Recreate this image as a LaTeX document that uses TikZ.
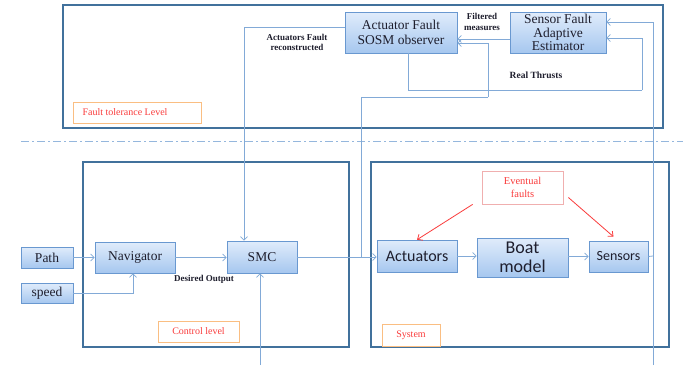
\documentclass[tikz,border=0pt]{standalone}
\usepackage{fontspec}
\setmainfont{Liberation Serif}
\newfontfamily\calfont{Carlito}
\usetikzlibrary{arrows.meta,shadows}
\definecolor{framecol}{RGB}{65,113,156}
\definecolor{boxline}{RGB}{105,152,208}
\definecolor{boxtop}{RGB}{224,236,251}
\definecolor{boxbot}{RGB}{166,199,239}
\definecolor{conncol}{RGB}{130,170,215}
\definecolor{redtxt}{RGB}{250,60,60}
\definecolor{orangeline}{RGB}{250,190,130}
\definecolor{pinkline}{RGB}{240,175,175}
\definecolor{boxtext}{RGB}{30,30,45}
\begin{document}
\begin{tikzpicture}[x=1pt,y=-1pt,
  box/.style={draw=boxline, line width=0.6pt, top color=boxtop, bottom color=boxbot,
    drop shadow={shadow xshift=1pt,shadow yshift=-1pt,opacity=0.25,fill=black},
    inner sep=0pt, align=center, text=boxtext},
  frm/.style={draw=framecol, line width=1.4pt},
  lbl/.style={draw=orangeline, line width=0.8pt, fill=white, text=redtxt, inner sep=0pt, font=\fontsize{10}{11}\selectfont},
  conn/.style={draw=conncol, line width=0.8pt},
  arr/.style={conn, -{Straight Barb[length=3.5pt,width=7pt]}},
  redarr/.style={draw=redtxt, line width=0.8pt, -{Straight Barb[length=4pt,width=7pt]}},
  small/.style={font=\fontsize{9}{10}\selectfont, text=boxtext, align=center, inner sep=0pt}
]
\useasboundingbox (0,0) rectangle (683,365);
\fill[white] (0,0) rectangle (683,365);

% frames
\draw[frm] (63,5) rectangle (663,128);
\draw[frm] (83,162) rectangle (349,347);
\draw[frm] (371,162) rectangle (669,347);

% separator
\draw[draw=conncol!85, line width=1pt, dash pattern=on 8pt off 3pt on 2pt off 3pt] (21,141) -- (683,141);

% boxes
\node[box, minimum width=52pt, minimum height=21pt, font=\fontsize{13.5}{15}\selectfont] (path) at (47,257.5) {Path};
\node[box, minimum width=52pt, minimum height=20pt, font=\fontsize{13.5}{15}\selectfont] (speed) at (47,293) {speed};
\node[box, minimum width=80pt, minimum height=31pt, font=\fontsize{13.5}{15}\selectfont] (nav) at (135,257.5) {Navigator};
\node[box, minimum width=70pt, minimum height=32pt, font=\fontsize{13.5}{15}\selectfont] (smc) at (262,257) {SMC};
\node[box, minimum width=80pt, minimum height=32pt, font=\calfont\fontsize{16}{18}\selectfont] (act) at (417,256) {Actuators};
\node[box, minimum width=91pt, minimum height=39pt, font=\calfont\fontsize{18}{18.5}\selectfont] (boat) at (522.5,257.5) {Boat\\model};
\node[box, minimum width=59pt, minimum height=31pt, font=\calfont\fontsize{14}{15}\selectfont] (sens) at (618.5,256.5) {Sensors};
\node[box, minimum width=112pt, minimum height=41pt, font=\fontsize{13.5}{14.5}\selectfont] (af) at (401,32.5) {Actuator Fault\\SOSM observer};
\node[box, minimum width=96pt, minimum height=41pt, font=\fontsize{13.5}{13.5}\selectfont] (sf) at (558,32.5) {Sensor Fault\\Adaptive\\Estimator};

% labels
\node[draw=pinkline, line width=0.8pt, fill=white, text=redtxt, align=center, inner sep=0pt,
  minimum width=81pt, minimum height=33pt, font=\fontsize{10.5}{12.5}\selectfont] (ef) at (522.5,187.5) {Eventual\\faults};
\node[lbl, minimum width=128pt, minimum height=21pt] (ftl) at (137,112.5) {\hspace*{-24pt}Fault tolerance Level};
\node[lbl, minimum width=81pt, minimum height=21pt] (cl) at (198.5,331.5) {Control level};
\node[lbl, minimum width=58pt, minimum height=22pt] (sys) at (411,335) {System};

\node[small, font=\bfseries\fontsize{9}{10.5}\selectfont] (desired) at (204,279) {Desired Output};
\node[small, font=\bfseries\fontsize{9}{10.5}\selectfont] (afr) at (297,42.5) {Actuators Fault\\reconstructed};
\node[small, font=\bfseries\fontsize{9}{10.5}\selectfont] (fm) at (482,22) {Filtered\\measures};
\node[small, font=\bfseries\fontsize{9.5}{10.5}\selectfont] (rt) at (536,75) {Real Thrusts};

% coordinates
\coordinate (bot1) at (260,365);
\coordinate (bot2) at (653,365);
\coordinate (j1) at (361,257);
\coordinate (r1) at (361,97);
\coordinate (r2) at (488,97);
\coordinate (t1) at (408,90);
\coordinate (t2) at (642,90);
\coordinate (s1) at (653,256);

% connectors
\draw[arr] (path.east) -- (path.east -| nav.west);
\draw[arr] (speed.east) -| ([xshift=-2pt]nav.south);
\draw[arr] (nav.east) -- (nav.east -| smc.west);
\draw[arr] ([yshift=5.5pt]af.west) -| ([xshift=-18pt]smc.north);
\draw[arr] (bot1) -- (bot1 |- smc.south);
\draw[arr] (smc.east) -- (smc.east -| act.west);
\draw[conn] (j1) -- (r1) -- (r2);
\draw[arr] (r2) |- ([yshift=-10.5pt]af.east);
\draw[arr] ([yshift=-6.5pt]sf.west) -- ([yshift=-6.5pt]af.east);
\draw[conn] ([xshift=7pt]af.south) |- (t1) -- (t2);
\draw[arr] (t2) |- ([yshift=-5.5pt]sf.east);
\draw[arr] (bot2) |- ([yshift=10.5pt]sf.east);
\draw[conn] (sens.east) -- (s1);
\draw[arr] (act.east) -- (act.east -| boat.west);
\draw[arr] (boat.east |- sens.west) -- (sens.west);
\draw[redarr] ([xshift=-9pt]ef.south west) -- (act.north);
\draw[redarr] ([xshift=5pt,yshift=-10pt]ef.east) -- ([xshift=-5pt,yshift=4pt]sens.north);
\end{tikzpicture}
\end{document}
